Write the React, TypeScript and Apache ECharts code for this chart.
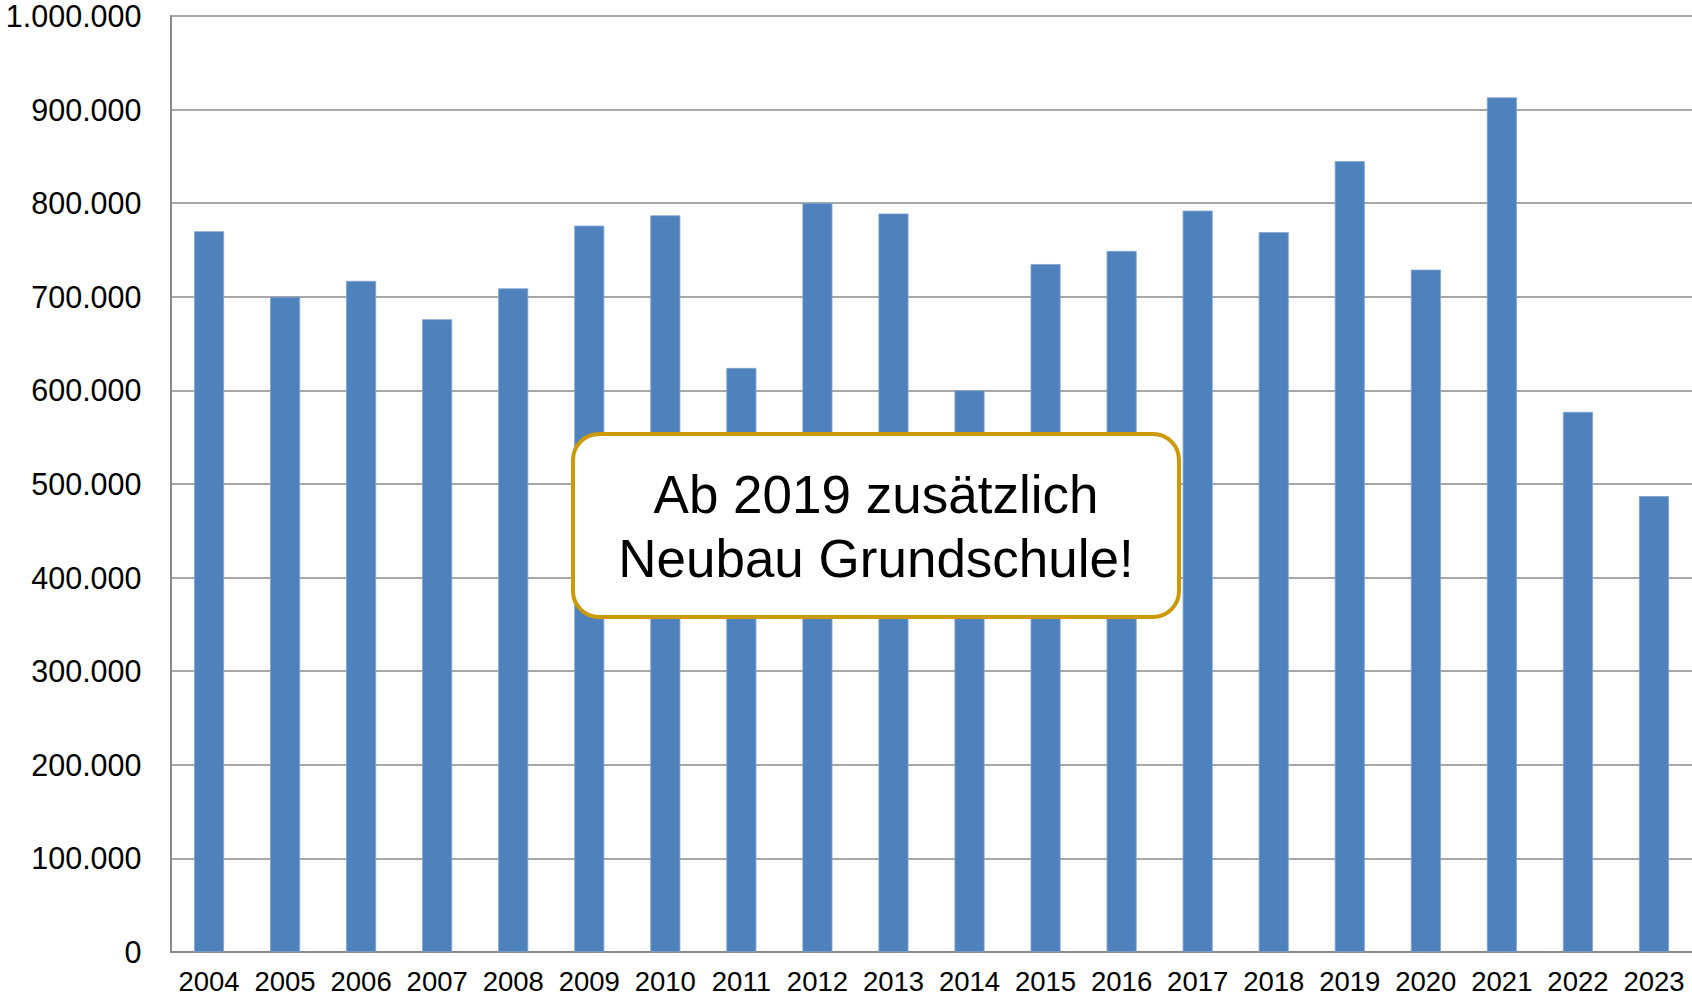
import React, { useEffect, useRef } from "react";
import * as echarts from "echarts";

const years = ["2004","2005","2006","2007","2008","2009","2010","2011","2012","2013","2014","2015","2016","2017","2018","2019","2020","2021","2022","2023"];
const values = [770000,700000,717000,676000,709000,776000,787000,624000,800000,789000,600000,735000,749000,792000,769000,845000,729000,913000,577000,487000];
const noteLines = ["Ab 2019 zusätzlich", "Neubau Grundschule!"];

const fmt = (v: number) => String(Math.round(v)).replace(/\B(?=(\d{3})+(?!\d))/g, ".");

export default function App() {
  const ref = useRef<HTMLDivElement>(null);
  useEffect(() => {
    const chart = echarts.init(ref.current!, null, { renderer: "svg" });
    const font = "'Liberation Sans', Arial, sans-serif";
    chart.setOption({
      animation: false,
      backgroundColor: "#ffffff",
      grid: { left: 171, right: 0, top: 16, bottom: 44, containLabel: false },
      xAxis: {
        type: "category",
        data: years,
        axisLine: { show: true, lineStyle: { color: "#8a8a8a", width: 2 } },
        axisTick: { show: false },
        axisLabel: { color: "#000", fontSize: 27.5, fontFamily: font, margin: 15, interval: 0 },
      },
      yAxis: {
        type: "value",
        min: 0,
        max: 1000000,
        interval: 100000,
        axisLine: { show: true, lineStyle: { color: "#8a8a8a", width: 2 } },
        axisTick: { show: false },
        splitLine: { show: true, lineStyle: { color: "#8a8a8a", width: 1.5 } },
        axisLabel: { color: "#000", fontSize: 30.5, lineHeight: 30, fontFamily: font, margin: 29.5, formatter: (v: number) => fmt(v) },
      },
      series: [
        {
          type: "bar",
          data: values,
          barWidth: 30,
          z: 2,
          itemStyle: { color: "#4F81BD", borderColor: "#7ea3d0", borderWidth: 0.8 },
        },
      ],
      graphic: {
        elements: [
          {
            type: "rect",
            z: 100,
            zlevel: 1,
            shape: { x: 573, y: 434, width: 606, height: 183, r: 26 },
            style: { fill: "#ffffff", stroke: "#CC9A06", lineWidth: 4 },
          },
          {
            type: "text",
            z: 101,
            zlevel: 1,
            x: 876,
            y: 526,
            style: {
              text: noteLines.join("\n"),
              font: `53px ${font}`,
              fill: "#000",
              align: "center",
              verticalAlign: "middle",
              lineHeight: 64,
            },
          },
        ],
      },
    });
    return () => chart.dispose();
  }, []);
  return <div ref={ref} style={{ position: "absolute", left: 0, top: 0, width: 1692, height: 996 }} />;
}
